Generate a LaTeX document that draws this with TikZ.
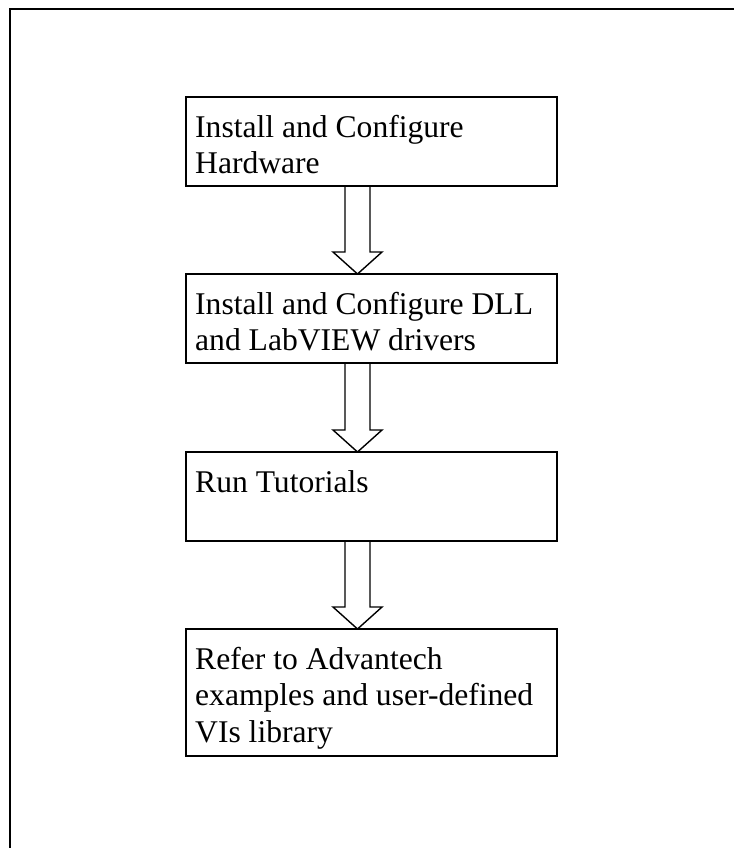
\documentclass[tikz,border=0pt]{standalone}
\usepackage{fontspec}
\setmainfont{Liberation Serif}
\usetikzlibrary{calc}
\tikzset{
  box/.style={draw, line width=1.4pt, minimum width=371pt, inner sep=0pt, outer sep=0pt},
  txt/.style={anchor=north west, inner sep=0pt, align=left, font=\fontsize{31.6}{36.5}\selectfont},
  blockarrow/.style={draw, line width=1.4pt, line join=miter},
  frame/.style={draw, line width=2pt}
}
\begin{document}
\begin{tikzpicture}[x=1pt,y=-1pt]
\useasboundingbox (0,0) rectangle (734,848);
\draw[frame] (10,848) -- (10,9) -- (734,9);

\node[box, minimum height=89pt] (b1) at (371.5,141.5) {};
\node[box, minimum height=89pt] (b2) at (371.5,318.5) {};
\node[box, minimum height=89pt] (b3) at (371.5,496.5) {};
\node[box, minimum height=127pt] (b4) at (371.5,692.5) {};

\node[txt] (t1) at ($(b1.north west)+(9,14.5)$) {\strut Install and Configure\\Hardware};
\node[txt] (t2) at ($(b2.north west)+(9,14.5)$) {\strut Install and Configure DLL\\and LabVIEW drivers};
\node[txt] (t3) at ($(b3.north west)+(9,14.5)$) {\strut Run Tutorials};
\node[txt] (t4) at ($(b4.north west)+(9,14.5)$) {\strut Refer to Advantech\\examples and user-defined\\VIs library};

\foreach \a/\b in {b1/b2,b2/b3,b3/b4}{
  \draw[blockarrow]
    ($(\a.south)+(-26.5,0)$) -- ($(\b.north)+(-26.5,-22)$)
    -- ($(\b.north)+(-38.5,-22)$) -- ($(\b.north)+(-14,0)$)
    -- ($(\b.north)+(10.5,-22)$) -- ($(\b.north)+(-1.5,-22)$)
    -- ($(\a.south)+(-1.5,0)$);
}
\end{tikzpicture}
\end{document}
